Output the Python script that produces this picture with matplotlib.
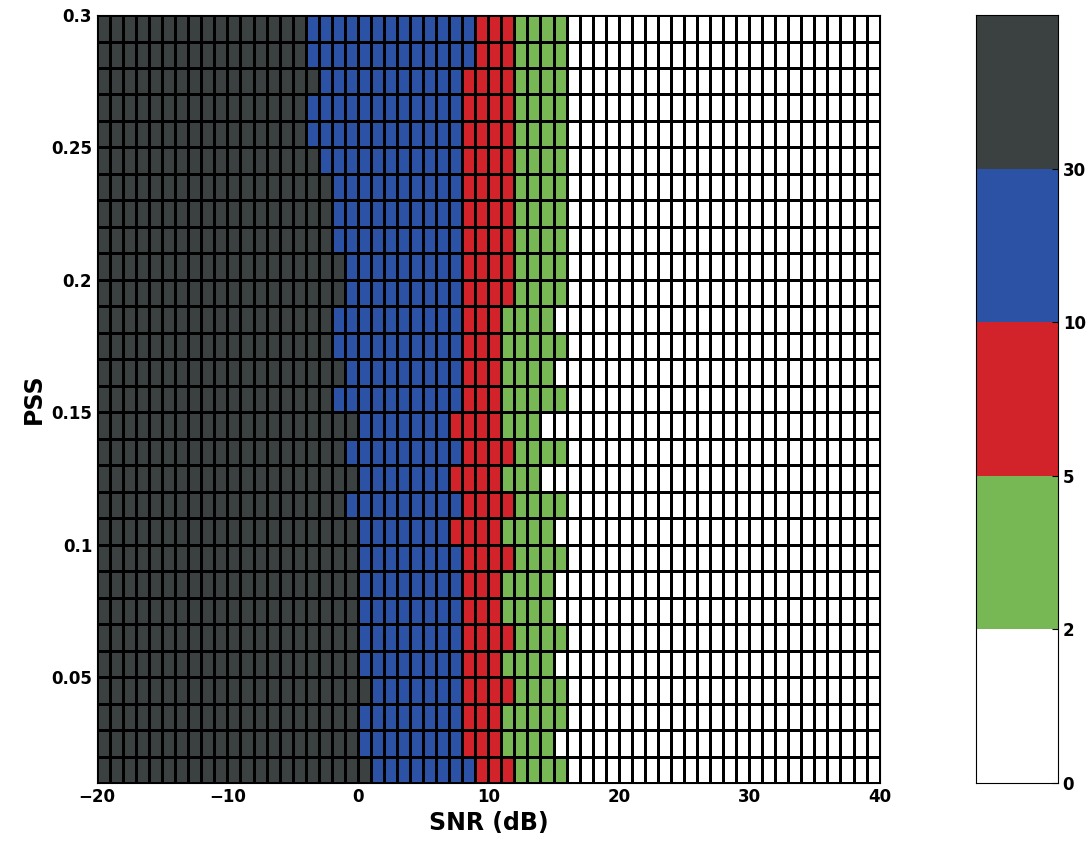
import numpy as np
import matplotlib
matplotlib.use("Agg")
import matplotlib.pyplot as plt
from matplotlib.colors import ListedColormap, BoundaryNorm

# SNR grid (dB) and PSS grid
snr_edges = np.arange(-20, 41, 1)
pss_edges = np.round(np.arange(0.01, 0.3001, 0.01), 2)

# per PSS row (bottom -> top): SNR where each colour class starts
blue_start = [1, 0, 0, 1, 0, 0, 0, 0, 0, 0, -1, 0, -1, 0, -2,
              -1, -2, -2, -1, -1, -2, -2, -2, -3, -4, -4, -3, -4, -4]
red_start = [9, 8, 8, 8, 8, 8, 8, 8, 8, 7, 8, 7, 8, 7, 8,
             8, 8, 8, 8, 8, 8, 8, 8, 8, 8, 8, 8, 9, 9]
green_start = [12, 11, 11, 12, 11, 12, 11, 11, 12, 11, 12, 11, 12, 11, 11,
               11, 11, 11, 12, 12, 12, 12, 12, 12, 12, 12, 12, 12, 12]
white_start = [16, 15, 16, 16, 15, 16, 15, 15, 16, 15, 16, 14, 16, 14, 16,
               15, 16, 15, 16, 16, 16, 16, 16, 16, 16, 16, 16, 16, 16]

cbar_labels = ["0", "2", "5", "10", "30"]
colors = ["#ffffff", "#78b854", "#d2222a", "#2b52a4", "#3b4141"]

# class index per cell: 4 dark, 3 blue, 2 red, 1 green, 0 white
centers = snr_edges[:-1]
grid = np.zeros((len(pss_edges) - 1, len(centers)))
for i in range(len(blue_start)):
    row = np.full(len(centers), 4)
    row[centers >= blue_start[i]] = 3
    row[centers >= red_start[i]] = 2
    row[centers >= green_start[i]] = 1
    row[centers >= white_start[i]] = 0
    grid[i] = row

cmap = ListedColormap(colors)
norm = BoundaryNorm(np.arange(-0.5, 5, 1), cmap.N)

fig = plt.figure(figsize=(10.9, 8.6), dpi=100)
ax = fig.add_axes([0.089, 0.0895, 0.718, 0.893])
ax.pcolormesh(snr_edges, pss_edges, grid, cmap=cmap, norm=norm,
              edgecolors="black", linewidth=0.8)
ax.set_xlim(-20, 40)
ax.set_ylim(0.01, 0.3)
ax.set_xticks([-20, -10, 0, 10, 20, 30, 40])
ax.set_yticks([0.05, 0.1, 0.15, 0.2, 0.25, 0.3])
ax.set_yticklabels(["0.05", "0.1", "0.15", "0.2", "0.25", "0.3"])
ax.tick_params(labelsize=12, length=0)
for t in ax.get_xticklabels() + ax.get_yticklabels():
    t.set_fontweight("bold")
ax.set_xlabel("SNR (dB)", fontsize=17, fontweight="bold")
ax.set_ylabel("PSS", fontsize=17, fontweight="bold")

# colour bar
cax = fig.add_axes([0.8955, 0.0895, 0.075, 0.893])
cax.pcolormesh([0, 1], np.arange(0, 6), np.arange(5).reshape(-1, 1),
               cmap=cmap, norm=norm)
cax.set_xlim(0, 1)
cax.set_ylim(0, 5)
cax.set_xticks([])
cax.yaxis.tick_right()
cax.set_yticks(np.arange(5))
cax.set_yticklabels(cbar_labels)
cax.tick_params(labelsize=12, length=4, direction="in")
for t in cax.get_yticklabels():
    t.set_fontweight("bold")

fig.savefig("out.png", dpi=100)
